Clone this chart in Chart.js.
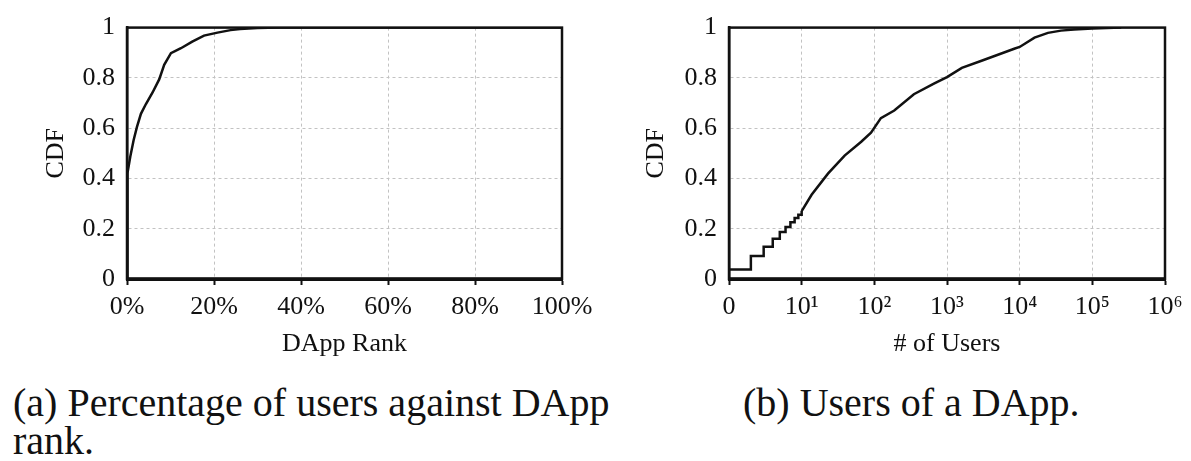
<!DOCTYPE html>
<html>
<head>
<meta charset="utf-8">
<script src="https://cdn.jsdelivr.net/npm/chart.js@4"></script>
<style>
  html, body { margin: 0; padding: 0; background: #fff; }
  #page { position: relative; width: 1191px; height: 461px; overflow: hidden; background: #fff; }
  .cv { position: absolute; top: 0; }
  .cap { position: absolute; font-family: 'Liberation Serif', 'Times New Roman', serif; font-size: 40px; line-height: 38px; color: #111; white-space: nowrap; }
</style>
</head>
<body>
<div id="page">
  <div class="cv" style="left:0;width:600px;height:360px;"><canvas id="ca"></canvas></div>
  <div class="cv" style="left:600px;width:591px;height:360px;"><canvas id="cb"></canvas></div>
  <div class="cap" style="left:13px;top:384px;">(a) Percentage of users against DApp<br>rank.</div>
  <div class="cap" style="left:743px;top:384px;">(b) Users of a DApp.</div>
</div>
<script>
// ---- data: (a) CDF of users against DApp rank (%)
const rankPct = [0, 0.05, 0.1, 0.15, 0.76, 1.53, 2.29, 3.2, 4.35, 5.88, 7.4, 8.55, 10.1, 12.4, 15, 17.7, 20.8, 23.8, 26, 30, 35, 100];
const rankCdf = [0, 0.15, 0.3, 0.42, 0.487, 0.553, 0.605, 0.657, 0.696, 0.742, 0.794, 0.852, 0.898, 0.918, 0.944, 0.968, 0.98, 0.99, 0.994, 0.998, 1, 1];
const rankTicks = [0, 20, 40, 60, 80, 100];

// ---- data: (b) CDF of users of a DApp (log x)
const userStepX = [1, 2, 3, 4, 5, 6, 7, 8, 9, 10];
const userStepCdf = [0.038, 0.091, 0.128, 0.16, 0.187, 0.207, 0.226, 0.243, 0.256, 0.27];
const userX = [10, 13.7, 23, 39, 66, 90, 123, 188, 350, 660, 1000, 1600, 2990, 8600, 10000, 16000, 24500, 37000, 56000, 100000, 250000];
const userCdf = [0.27, 0.335, 0.419, 0.491, 0.546, 0.582, 0.64, 0.67, 0.735, 0.777, 0.803, 0.84, 0.868, 0.917, 0.923, 0.96, 0.979, 0.988, 0.992, 0.996, 1.0];
const userTickValues = [1, 10, 100, 1000, 10000, 100000, 1000000];
const userTickLabels = ['0', '10\u00B9', '10\u00B2', '10\u00B3', '10\u2074', '10\u2075', '10\u2076'];

const cdfTicks = [0, 0.2, 0.4, 0.6, 0.8, 1];
const cdfTickLabels = ['0', '0.2', '0.4', '0.6', '0.8', '1'];

Chart.defaults.font.family = "'Liberation Serif', 'Times New Roman', serif";
Chart.defaults.color = '#111';
Chart.defaults.animation = false;

const framePlugin = {
  id: 'frame',
  afterDatasetsDraw(chart) {
    const a = chart.chartArea, ctx = chart.ctx;
    ctx.save();
    ctx.setLineDash([]);
    ctx.strokeStyle = '#111';
    ctx.lineWidth = 2.5;
    ctx.strokeRect(a.left, a.top, a.right - a.left, a.bottom - a.top);
    ctx.beginPath();
    ctx.lineWidth = 3.5;
    ctx.moveTo(a.left - 1, a.bottom);
    ctx.lineTo(a.right + 1, a.bottom);
    ctx.stroke();
    ctx.restore();
  }
};

const gridColor = '#c2c2c2';
const gridDash = [3, 3];

function yScale(width) {
  return {
    type: 'linear',
    min: 0, max: 1,
    afterFit: s => { s.width = width; },
    afterBuildTicks: s => { s.ticks = cdfTicks.map(v => ({ value: v })); },
    ticks: {
      padding: 12,
      font: { size: 26 },
      callback: (v, i) => cdfTickLabels[i]
    },
    grid: { color: gridColor, lineWidth: 1, drawTicks: false },
    border: { display: true, color: '#111', width: 2.5, dash: gridDash },
    title: { display: true, text: 'CDF', font: { size: 26 }, padding: { top: 41, bottom: 0 } }
  };
}

function xTitle(text) {
  return { display: true, text: text, font: { size: 26 }, padding: { top: 0, bottom: 0 } };
}

const xGrid = {
  color: gridColor, lineWidth: 1,
  drawTicks: true, tickLength: 6, tickColor: '#111', tickWidth: 2, tickBorderDash: []
};
const xBorder = { display: true, color: '#111', width: 3, dash: gridDash };

new Chart(document.getElementById('ca'), {
  type: 'line',
  data: {
    datasets: [{
      data: rankPct.map((x, i) => ({ x: x, y: rankCdf[i] })),
      borderColor: '#111', borderWidth: 2.5, pointRadius: 0, tension: 0, fill: false
    }]
  },
  options: {
    responsive: true, maintainAspectRatio: false,
    layout: { padding: { top: 23, right: 38, left: 0, bottom: 0 } },
    plugins: { legend: { display: false }, tooltip: { enabled: false } },
    scales: {
      x: {
        type: 'linear', min: 0, max: 100,
        afterFit: s => { s.height = 81; },
        afterBuildTicks: s => { s.ticks = rankTicks.map(v => ({ value: v })); },
        ticks: { padding: 7, font: { size: 26 }, maxRotation: 0, callback: v => v + '%' },
        grid: xGrid,
        border: xBorder,
        title: xTitle('DApp Rank')
      },
      y: yScale(127)
    }
  },
  plugins: [framePlugin]
});

new Chart(document.getElementById('cb'), {
  type: 'line',
  data: {
    datasets: [{
      data: userStepX.map((x, i) => ({ x: x, y: userStepCdf[i] })),
      borderColor: '#111', borderWidth: 2.5, pointRadius: 0, stepped: 'before', fill: false
    }, {
      data: userX.map((x, i) => ({ x: x, y: userCdf[i] })),
      borderColor: '#111', borderWidth: 2.5, pointRadius: 0, tension: 0, fill: false
    }]
  },
  options: {
    responsive: true, maintainAspectRatio: false,
    layout: { padding: { top: 23, right: 26, left: 0, bottom: 0 } },
    plugins: { legend: { display: false }, tooltip: { enabled: false } },
    scales: {
      x: {
        type: 'logarithmic', min: 1, max: 1000000,
        afterFit: s => { s.height = 81; },
        afterBuildTicks: s => { s.ticks = userTickValues.map(v => ({ value: v })); },
        ticks: { padding: 7, font: { size: 26 }, maxRotation: 0, autoSkip: false, callback: (v, i) => userTickLabels[i] },
        grid: xGrid,
        border: xBorder,
        title: xTitle('# of Users')
      },
      y: yScale(129)
    }
  },
  plugins: [framePlugin]
});
</script>
</body>
</html>
